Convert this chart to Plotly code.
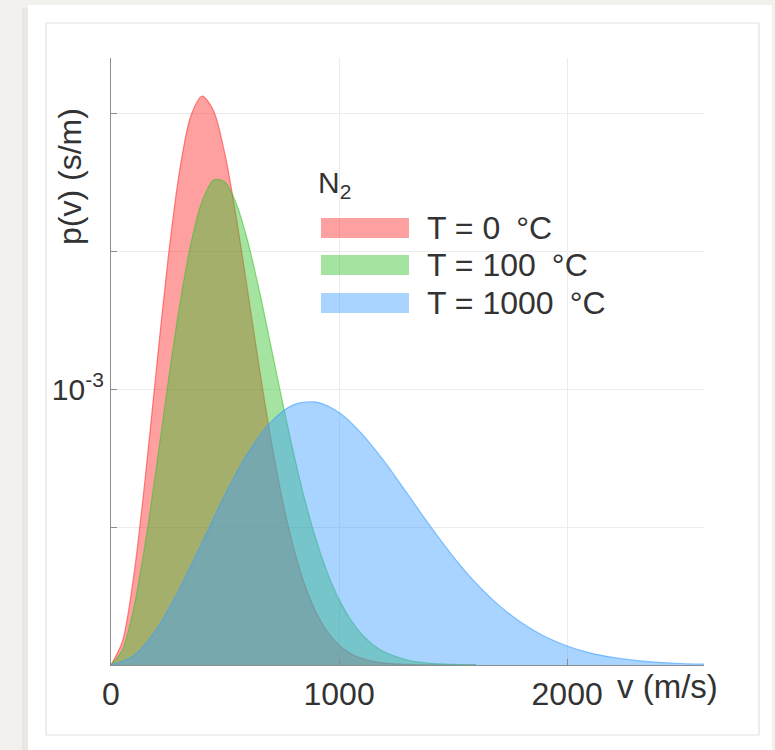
import plotly.graph_objects as go

# speed v in m/s (finer grid for the two narrow curves)
v_low = [0, 50, 100, 150, 200, 250, 300, 350, 400, 450, 500, 550, 600, 650, 700,
         750, 800, 850, 900, 950, 1000, 1050, 1100, 1150, 1200, 1300, 1400, 1500, 1600]
v_high = [0, 100, 200, 300, 400, 500, 600, 700, 800, 900, 1000, 1100, 1200, 1300,
          1400, 1500, 1600, 1700, 1800, 1900, 2000, 2100, 2200, 2300, 2400, 2500, 2600]

# p(v), in units of 1e-3 s/m
p_0C = [0, 0.085, 0.325, 0.677, 1.081, 1.470, 1.787, 1.990, 2.062, 2.008, 1.850,
        1.619, 1.351, 1.078, 0.825, 0.605, 0.427, 0.290, 0.189, 0.119, 0.072,
        0.042, 0.024, 0.013, 0.007, 0.002, 0.0004, 0, 0]
p_100C = [0, 0.054, 0.207, 0.440, 0.723, 1.021, 1.298, 1.526, 1.682, 1.758, 1.751,
          1.671, 1.534, 1.358, 1.161, 0.961, 0.770, 0.599, 0.452, 0.332, 0.237,
          0.165, 0.111, 0.073, 0.047, 0.018, 0.006, 0.002, 0.0005]
p_1000C = [0, 0.034, 0.130, 0.275, 0.445, 0.617, 0.768, 0.880, 0.943, 0.953, 0.915,
           0.838, 0.736, 0.620, 0.503, 0.393, 0.297, 0.217, 0.153, 0.104, 0.069,
           0.044, 0.0275, 0.0165, 0.0097, 0.0055, 0.003]

series_names = ["T = 0\u2002°C", "T = 100\u2002°C", "T = 1000\u2002°C"]
legend_title = "N<sub>2</sub>"
x_ticks = [0, 1000, 2000]
x_ticklabels = ["0", "1000", "2000"]
y_major = [1e-3]
y_major_labels = ["10<sup>-3</sup>"]
y_minor = [0.5e-3, 1.5e-3, 2e-3]

fills = ["rgba(255,44,44,0.45)", "rgba(55,193,44,0.45)", "rgba(62,160,255,0.45)"]
edges = ["rgba(255,44,44,0.55)", "rgba(55,193,44,0.55)", "rgba(62,160,255,0.6)"]

W, H = 775, 750
L, R, T, B = 111, 704, 58, 665  # plot area in pixels


def px(xp):
    return (xp - L) / (R - L)


def py(yp):
    return (B - yp) / (B - T)


FONT = "Liberation Sans, Arial, Helvetica, sans-serif"
TXT = "#333333"
GRID = "#ececec"
AX = "#8c8c8c"

fig = go.Figure()
for name, xs, ys, fc, ec in zip(series_names, [v_low, v_low, v_high],
                                [p_0C, p_100C, p_1000C], fills, edges):
    fig.add_trace(go.Scatter(
        x=xs, y=[val * 1e-3 for val in ys], name=name, mode="lines",
        line=dict(color=ec, width=1.2, shape="spline", smoothing=0.8),
        fill="tozeroy", fillcolor=fc, showlegend=False, hoverinfo="skip"))

shapes = [
    # card shadow
    dict(type="rect", xref="paper", yref="paper", x0=px(22), x1=px(28),
         y0=py(8), y1=py(760), fillcolor="#e8e7e3", line=dict(width=0), layer="below"),
    # white card
    dict(type="rect", xref="paper", yref="paper", x0=px(28), x1=px(772),
         y0=py(5), y1=py(760), fillcolor="white", line=dict(width=0), layer="below"),
    # inner frame
    dict(type="rect", xref="paper", yref="paper", x0=px(46), x1=px(759),
         y0=py(23), y1=py(735), fillcolor="rgba(0,0,0,0)",
         line=dict(color="#e2e2e2", width=1.2), layer="below"),
]

annotations = []
# legend
sw_y = [228, 265, 303]
for name, fc, yc in zip(series_names, fills, sw_y):
    shapes.append(dict(type="rect", xref="paper", yref="paper", x0=px(321), x1=px(409),
                       y0=py(yc - 10), y1=py(yc + 10), fillcolor=fc,
                       line=dict(width=0)))
    annotations.append(dict(text=name, xref="paper", yref="paper", x=px(425), y=py(yc),
                            xanchor="left", yanchor="middle", showarrow=False,
                            font=dict(family=FONT, size=32, color=TXT)))
annotations.append(dict(text=legend_title, xref="paper", yref="paper", x=px(316), y=py(184),
                        xanchor="left", yanchor="middle", showarrow=False,
                        font=dict(family=FONT, size=30, color=TXT)))
# axis titles
annotations.append(dict(text="v (m/s)", xref="paper", yref="paper", x=px(615), y=py(686),
                        xanchor="left", yanchor="middle", showarrow=False,
                        font=dict(family=FONT, size=33, color=TXT)))
annotations.append(dict(text="p(v) (s/m)", xref="paper", yref="paper", x=px(70), y=py(177),
                        xanchor="center", yanchor="middle", textangle=-90, showarrow=False,
                        font=dict(family=FONT, size=32, color=TXT)))

fig.update_layout(
    width=W, height=H,
    margin=dict(l=L, r=W - R, t=T, b=H - B),
    paper_bgcolor="#f2f1ed", plot_bgcolor="white",
    shapes=shapes, annotations=annotations,
    showlegend=False,
    font=dict(family=FONT, color=TXT),
)
fig.update_xaxes(range=[0, 2600], tickvals=x_ticks, ticktext=x_ticklabels,
                 showgrid=True, gridcolor=GRID, gridwidth=1,
                 showline=True, linecolor=AX, linewidth=1.2,
                 ticks="inside", ticklen=6, tickcolor=AX,
                 zeroline=False, tickfont=dict(family=FONT, size=32, color=TXT))
fig.update_yaxes(range=[0, 2.2e-3], tickvals=y_major, ticktext=y_major_labels,
                 showgrid=True, gridcolor=GRID, gridwidth=1,
                 showline=True, linecolor=AX, linewidth=1.2,
                 ticks="inside", ticklen=6, tickcolor=AX,
                 minor=dict(tickvals=y_minor, ticks="inside", ticklen=6, tickcolor=AX,
                            showgrid=True, gridcolor=GRID, gridwidth=1),
                 zeroline=False, tickfont=dict(family=FONT, size=30, color=TXT))

fig.write_html(
    "out.html",
    config={"displayModeBar": False},
    post_script="document.body.style.margin='0';document.body.style.background='#f2f1ed';",
)
